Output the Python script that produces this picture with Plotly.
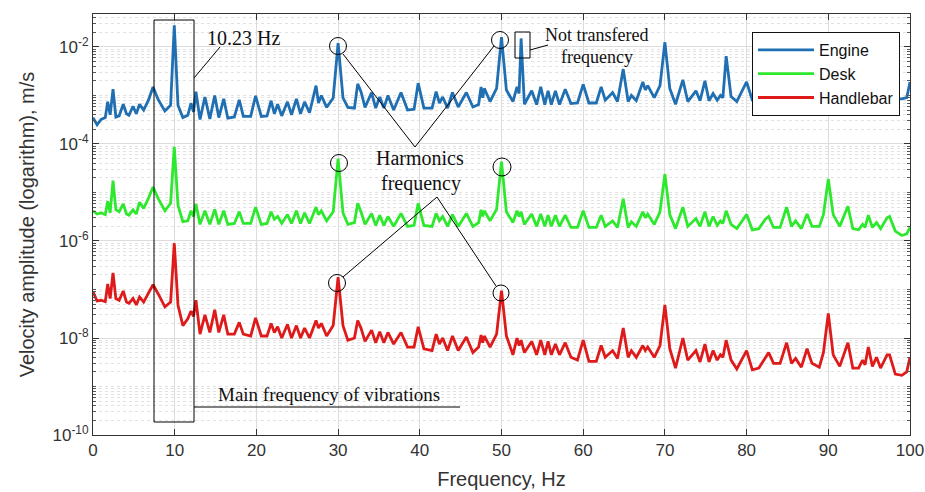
import plotly.graph_objects as go

# ---------------- data ----------------
freq = [
    0, 0.5, 1.0, 1.5, 1.8, 2.1, 2.45, 2.8, 3.2, 3.7,
    4.1, 4.4, 4.9, 5.3, 5.7, 6.2, 6.8, 7.35, 8.0, 8.8,
    9.5, 9.95, 10.4, 11.0, 11.6, 12.0, 12.3, 12.6, 13.1, 13.7,
    14.3, 14.9, 15.4, 16.0, 16.5, 17.3, 17.9, 18.4, 19.3, 19.9,
    20.6, 21.3, 21.8, 22.2, 22.6, 23.1, 23.8, 24.3, 24.9, 25.4,
    25.9, 26.5, 27.3, 27.6, 27.95, 28.6, 29.4, 30.0, 30.6, 31.2,
    32.0, 32.4, 32.8, 33.3, 34.1, 34.6, 35.1, 35.6, 36.1, 36.8,
    37.7, 38.5, 39.3, 39.8, 40.5, 41.5, 42.0, 42.4, 42.8, 43.4,
    44.0, 44.7, 45.7, 46.5, 47.2, 47.5, 47.7, 47.9, 48.6, 49.4,
    50.0, 50.6, 51.4, 51.9, 52.15, 52.4, 52.8, 53.7, 54.3, 54.8,
    55.3, 55.7, 56.1, 56.6, 57.1, 57.8, 58.5, 59.3, 60.0, 60.7,
    61.6, 62.2, 62.7, 63.6, 64.2, 64.9, 65.5, 65.9, 66.5, 67.3,
    67.6, 67.9, 68.7, 69.4, 70.0, 70.6, 71.3, 72.2, 72.8, 73.8,
    74.3, 74.9, 75.4, 75.9, 76.4, 76.8, 77.1, 77.5, 78.1, 78.8,
    80.0, 80.7, 81.5, 82.3, 82.7, 83.3, 84.1, 84.9, 85.5, 86.0,
    86.7, 87.4, 88.0, 88.9, 89.4, 90.0, 90.6, 91.4, 92.4, 93.0,
    93.7, 94.2, 94.5, 94.9, 95.4, 95.9, 96.4, 97.2, 97.5, 98.2,
    99.0, 99.6, 100.0,
]

engine = [
    3.5e-4, 2.5e-4, 3.2e-4, 3.5e-4, 7.4e-4, 4.0e-4, 1.35e-3, 3.6e-4, 3.8e-4, 6.6e-4,
    4.2e-4, 3.9e-4, 6.0e-4, 4.2e-4, 6.6e-4, 5.0e-4, 8.1e-4, 1.5e-3, 8.1e-4, 4.8e-4,
    6.3e-4, 2.8e-2, 6.3e-4, 3.5e-4, 3.9e-4, 7.0e-4, 4.6e-4, 1.2e-3, 3.2e-4, 9.3e-4,
    3.3e-4, 1.0e-3, 3.5e-4, 8.5e-4, 3.4e-4, 3.6e-4, 8.1e-4, 3.7e-4, 3.7e-4, 9.8e-4,
    3.7e-4, 3.8e-4, 7.8e-4, 4.2e-4, 6.6e-4, 3.8e-4, 7.4e-4, 4.0e-4, 8.5e-4, 4.2e-4,
    7.4e-4, 4.4e-4, 1.6e-3, 7.0e-4, 1.0e-3, 5.7e-4, 8.9e-4, 1.2e-2, 8.9e-4, 5.7e-4,
    5.5e-4, 1.74e-3, 1.2e-3, 5.7e-4, 1.15e-3, 5.5e-4, 9.3e-4, 5.5e-4, 1.0e-3, 5.0e-4,
    1.15e-3, 5.0e-4, 5.2e-4, 1.8e-3, 5.5e-4, 5.5e-4, 1.2e-3, 7.0e-4, 9.3e-4, 5.5e-4,
    1.15e-3, 5.8e-4, 1.15e-3, 5.8e-4, 6.5e-4, 1.5e-3, 9.0e-4, 1.4e-3, 7.5e-4, 1.4e-3,
    1.6e-2, 1.3e-3, 7.5e-4, 1.5e-3, 1.1e-3, 1.5e-2, 6.6e-4, 1.25e-3, 6.5e-4, 1.5e-3,
    6.5e-4, 1.25e-3, 6.5e-4, 1.25e-3, 6.5e-4, 1.35e-3, 6.8e-4, 7.0e-4, 1.7e-3, 7.0e-4,
    7.0e-4, 1.5e-3, 8.0e-4, 1.15e-3, 7.5e-4, 3.5e-3, 7.5e-4, 1.0e-3, 7.8e-4, 1.9e-3,
    1.3e-3, 1.6e-3, 9.0e-4, 1.6e-3, 1.25e-2, 1.4e-3, 6.6e-4, 2.1e-3, 7.5e-4, 1.25e-3,
    7.8e-4, 2.0e-3, 7.8e-4, 1.1e-3, 8.0e-4, 1.0e-3, 9.0e-4, 6.5e-3, 9.5e-4, 7.5e-4,
    1.9e-3, 8.0e-4, 8.0e-4, 1.4e-3, 1.3e-3, 8.0e-4, 8.0e-4, 2.0e-3, 8.0e-4, 1.0e-3,
    8.0e-4, 1.6e-3, 8.0e-4, 8.0e-4, 1.6e-3, 5.0e-3, 1.4e-3, 7.5e-4, 1.8e-3, 7.5e-4,
    7.5e-4, 1.0e-3, 8.0e-4, 1.5e-3, 7.5e-4, 1.0e-3, 7.5e-4, 1.3e-3, 1.3e-3, 8.5e-4,
    8.5e-4, 9.0e-4, 1.9e-3,
]

desk = [
    4.2e-6, 3.6e-6, 3.8e-6, 3.5e-6, 6.6e-6, 3.8e-6, 1.75e-5, 4.4e-6, 4.0e-6, 5.8e-6,
    3.6e-6, 3.4e-6, 4.4e-6, 3.6e-6, 6.3e-6, 4.7e-6, 7.7e-6, 1.3e-5, 7.4e-6, 4.2e-6,
    6.0e-6, 8.7e-5, 5.5e-6, 2.5e-6, 2.6e-6, 4.2e-6, 3.2e-6, 5.8e-6, 2.2e-6, 4.2e-6,
    2.2e-6, 4.5e-6, 2.2e-6, 4.2e-6, 2.2e-6, 2.3e-6, 4.0e-6, 2.3e-6, 2.3e-6, 5.0e-6,
    2.2e-6, 2.3e-6, 4.0e-6, 2.8e-6, 3.2e-6, 2.3e-6, 3.5e-6, 2.3e-6, 4.2e-6, 2.3e-6,
    3.8e-6, 2.3e-6, 5.0e-6, 3.5e-6, 4.2e-6, 2.6e-6, 4.0e-6, 5.0e-5, 3.8e-6, 2.2e-6,
    2.4e-6, 6.0e-6, 4.0e-6, 2.2e-6, 3.7e-6, 2.1e-6, 3.4e-6, 2.1e-6, 3.2e-6, 2.0e-6,
    3.7e-6, 2.0e-6, 2.1e-6, 6.0e-6, 2.1e-6, 2.0e-6, 3.7e-6, 2.6e-6, 3.2e-6, 2.0e-6,
    3.5e-6, 2.0e-6, 3.7e-6, 2.0e-6, 2.4e-6, 4.4e-6, 3.2e-6, 4.2e-6, 2.6e-6, 4.5e-6,
    4.3e-5, 4.0e-6, 2.4e-6, 4.2e-6, 3.2e-6, 4.0e-6, 2.2e-6, 3.6e-6, 2.0e-6, 3.6e-6,
    2.0e-6, 3.4e-6, 2.0e-6, 3.4e-6, 2.0e-6, 3.4e-6, 1.9e-6, 1.9e-6, 4.2e-6, 1.9e-6,
    1.9e-6, 3.4e-6, 2.0e-6, 2.6e-6, 1.9e-6, 7.4e-6, 1.9e-6, 2.5e-6, 2.0e-6, 4.0e-6,
    3.0e-6, 3.6e-6, 2.2e-6, 4.0e-6, 2.4e-5, 3.5e-6, 1.8e-6, 5.0e-6, 2.0e-6, 2.9e-6,
    2.0e-6, 4.0e-6, 2.0e-6, 3.2e-6, 2.1e-6, 2.6e-6, 2.3e-6, 4.2e-6, 2.2e-6, 1.8e-6,
    3.5e-6, 1.7e-6, 1.8e-6, 2.8e-6, 3.2e-6, 1.9e-6, 1.9e-6, 5.0e-6, 2.0e-6, 2.6e-6,
    1.8e-6, 3.6e-6, 2.0e-6, 2.0e-6, 3.5e-6, 1.9e-5, 3.5e-6, 2.0e-6, 5.2e-6, 1.8e-6,
    1.7e-6, 2.2e-6, 1.9e-6, 3.4e-6, 1.9e-6, 2.4e-6, 1.8e-6, 3.0e-6, 3.2e-6, 1.6e-6,
    1.3e-6, 1.4e-6, 1.9e-6,
]

handlebar = [
    8.9e-8, 5.8e-8, 6.0e-8, 5.6e-8, 1.3e-7, 6.5e-8, 2.2e-7, 6.5e-8, 6.0e-8, 9.3e-8,
    5.5e-8, 5.2e-8, 6.5e-8, 4.8e-8, 7.0e-8, 5.5e-8, 8.5e-8, 1.25e-7, 8.0e-8, 4.4e-8,
    5.5e-8, 9.0e-7, 4.8e-8, 1.8e-8, 2.5e-8, 3.6e-8, 2.8e-8, 6.0e-8, 1.2e-8, 3.0e-8,
    1.3e-8, 3.8e-8, 1.3e-8, 3.0e-8, 1.2e-8, 1.2e-8, 2.1e-8, 1.2e-8, 1.1e-8, 2.6e-8,
    1.1e-8, 1.1e-8, 2.0e-8, 1.3e-8, 1.7e-8, 1.0e-8, 1.9e-8, 1.0e-8, 1.8e-8, 1.0e-8,
    1.6e-8, 1.0e-8, 2.3e-8, 1.6e-8, 2.0e-8, 1.1e-8, 1.8e-8, 1.8e-7, 1.8e-8, 9.0e-9,
    1.0e-8, 2.3e-8, 1.6e-8, 8.5e-9, 1.45e-8, 8.0e-9, 1.35e-8, 8.0e-9, 1.3e-8, 7.5e-9,
    1.3e-8, 6.5e-9, 6.5e-9, 1.7e-8, 6.0e-9, 5.5e-9, 1.2e-8, 7.5e-9, 1.0e-8, 5.5e-9,
    1.1e-8, 5.5e-9, 1.05e-8, 5.0e-9, 6.5e-9, 1.15e-8, 8.0e-9, 1.1e-8, 6.5e-9, 1.2e-8,
    9.5e-8, 1.1e-8, 4.5e-9, 1.0e-8, 7.0e-9, 9.0e-9, 5.0e-9, 8.5e-9, 4.5e-9, 9.0e-9,
    4.5e-9, 8.5e-9, 4.5e-9, 7.5e-9, 4.5e-9, 8.0e-9, 4.0e-9, 3.5e-9, 9.0e-9, 3.3e-9,
    3.3e-9, 7.0e-9, 4.0e-9, 5.5e-9, 3.8e-9, 1.6e-8, 4.0e-9, 5.5e-9, 4.0e-9, 7.0e-9,
    5.5e-9, 6.5e-9, 4.0e-9, 7.0e-9, 4.8e-8, 6.0e-9, 2.4e-9, 1.0e-8, 3.5e-9, 5.5e-9,
    3.2e-9, 7.5e-9, 3.2e-9, 5.5e-9, 3.5e-9, 4.5e-9, 4.0e-9, 9.0e-9, 3.5e-9, 2.3e-9,
    5.5e-9, 2.2e-9, 2.4e-9, 4.0e-9, 5.0e-9, 3.0e-9, 3.0e-9, 8.0e-9, 3.0e-9, 3.8e-9,
    2.5e-9, 6.0e-9, 3.0e-9, 2.5e-9, 5.0e-9, 3.2e-8, 4.5e-9, 2.6e-9, 8.0e-9, 2.4e-9,
    2.4e-9, 3.5e-9, 2.8e-9, 6.5e-9, 2.6e-9, 4.0e-9, 2.4e-9, 4.5e-9, 4.5e-9, 1.8e-9,
    1.7e-9, 2.0e-9, 4.0e-9,
]

series_names = ["Engine", "Desk", "Handlebar"]
x_tick_vals = [0, 10, 20, 30, 40, 50, 60, 70, 80, 90, 100]
y_tick_vals = [1e-10, 1e-8, 1e-6, 1e-4, 1e-2]
y_tick_text = ["10<sup>-10</sup>", "10<sup>-8</sup>", "10<sup>-6</sup>",
               "10<sup>-4</sup>", "10<sup>-2</sup>"]

assert len(freq) == len(engine) == len(desk) == len(handlebar)

# ---------------- styling ----------------
colors = ["#1f6fb2", "#2ee82e", "#de1a1a"]
W, H = 925, 492
L, T, PW, PH = 93, 14, 817, 421


def px(x):
    return (x - L) / PW


def py(y):
    return (T + PH - y) / PH


fig = go.Figure()
for name, vals, col in zip(series_names, [engine, desk, handlebar], colors):
    fig.add_trace(go.Scatter(x=freq, y=vals, mode="lines", name=name,
                             line=dict(color=col, width=2.8)))

minor_vals = [k * 10.0 ** e for e in range(-10, -1) for k in range(1, 10)
              if not (k == 1 and e % 2 == 0)]

axis_font = dict(family="Liberation Sans, Arial, sans-serif", size=17, color="#333333")

fig.update_xaxes(
    range=[0, 100], tickvals=x_tick_vals, ticks="inside", ticklen=6,
    tickcolor="#333333", showline=True, linecolor="#333333", linewidth=1,
    mirror="allticks", showgrid=True, gridcolor="#dcdcdc", gridwidth=1,
    zeroline=False, tickfont=axis_font, automargin=False,
    title=dict(text="Frequency, Hz", font=dict(family="Liberation Sans, Arial, sans-serif",
                                               size=20, color="#333333"), standoff=12),
)
fig.update_yaxes(
    type="log", range=[-10, -1.32], tickvals=y_tick_vals, ticktext=y_tick_text,
    ticks="inside", ticklen=6, tickcolor="#333333", showline=True,
    linecolor="#333333", linewidth=1, mirror="allticks", showgrid=True,
    gridcolor="#dcdcdc", gridwidth=1, zeroline=False, tickfont=axis_font,
    automargin=False,
    minor=dict(tickvals=minor_vals, ticks="inside", ticklen=3, tickcolor="#555555",
               showgrid=True, gridcolor="#e2e2e2", griddash="dot", gridwidth=1),
    title=dict(text="Velocity amplitude (logarithm), m/s",
               font=dict(family="Liberation Sans, Arial, sans-serif", size=20,
                         color="#333333"), standoff=12),
)

serif = "Liberation Serif, Times New Roman, serif"
line_k = dict(color="black", width=1)
shapes = []
# rectangle around main frequency
shapes.append(dict(type="rect", xref="paper", yref="paper", x0=px(154), x1=px(194),
                   y0=py(422), y1=py(20), line=line_k))
# leader to "10.23 Hz"
shapes.append(dict(type="line", xref="paper", yref="paper", x0=px(194), y0=py(78),
                   x1=px(220), y1=py(47), line=line_k))
# underline of "Main frequency of vibrations"
shapes.append(dict(type="line", xref="paper", yref="paper", x0=px(194), y0=py(407),
                   x1=px(460), y1=py(407), line=line_k))
# circles on harmonic peaks
for cx, cy, r in [(338, 46, 8.5), (500, 40, 8.5), (339, 163, 8.5),
                  (502, 167, 9), (337, 283, 8.5), (501, 293, 8)]:
    shapes.append(dict(type="circle", xref="paper", yref="paper",
                       x0=px(cx - r), x1=px(cx + r), y0=py(cy + r), y1=py(cy - r),
                       line=line_k))
# lines from "Harmonics frequency"
for (x0, y0, x1, y1) in [(415, 147, 343, 54), (415, 147, 494, 46),
                         (437, 197, 343, 277), (437, 197, 496, 286)]:
    shapes.append(dict(type="line", xref="paper", yref="paper", x0=px(x0), y0=py(y0),
                       x1=px(x1), y1=py(y1), line=line_k))
# small box around not transferred peak + leader
shapes.append(dict(type="rect", xref="paper", yref="paper", x0=px(515), x1=px(530),
                   y0=py(58), y1=py(32), line=line_k))
shapes.append(dict(type="line", xref="paper", yref="paper", x0=px(530), y0=py(50),
                   x1=px(548), y1=py(45), line=line_k))

annotations = [
    dict(text="10.23 Hz", x=px(243), y=py(38), size=20),
    dict(text="Main frequency of vibrations", x=px(329), y=py(394), size=19),
    dict(text="Harmonics", x=px(420), y=py(158), size=20),
    dict(text="frequency", x=px(421), y=py(183), size=20),
    dict(text="Not transfered", x=px(596), y=py(35), size=18),
    dict(text="frequency", x=px(597), y=py(57), size=18),
]
ann_objs = [dict(text=a["text"], x=a["x"], y=a["y"], xref="paper", yref="paper",
                 showarrow=False, xanchor="center", yanchor="middle",
                 font=dict(family=serif, size=a["size"], color="#111111"))
            for a in annotations]

fig.update_layout(
    width=W, height=H, margin=dict(l=L, r=W - L - PW, t=T, b=H - T - PH),
    paper_bgcolor="white", plot_bgcolor="white",
    shapes=shapes, annotations=ann_objs,
    legend=dict(x=px(900), y=py(32), xanchor="right", yanchor="top",
                bgcolor="white", bordercolor="#111111", borderwidth=1,
                font=dict(family="Liberation Sans, Arial, sans-serif", size=16,
                          color="#111111"),
                itemwidth=56, tracegroupgap=0),
    showlegend=True,
)

fig.write_html("out.html", config={"displayModeBar": False},
               post_script="document.body.style.margin='0';"
                           "document.body.style.overflow='hidden';")
